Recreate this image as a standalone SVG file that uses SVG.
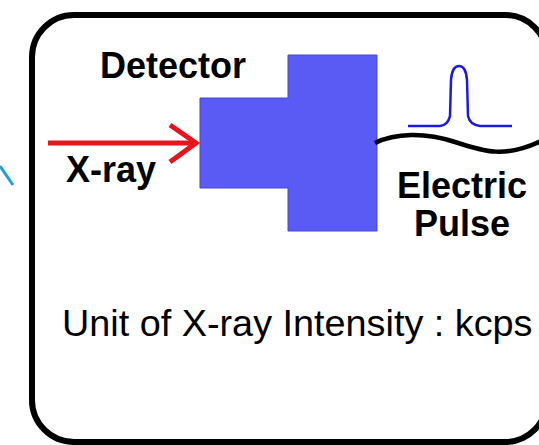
<svg xmlns="http://www.w3.org/2000/svg" width="539" height="445" viewBox="0 0 539 445">
<style>
.bold{font-family:"Liberation Sans",Arial,sans-serif;font-weight:bold;font-size:36px;fill:#000}
.reg{font-family:"Liberation Sans",Arial,sans-serif;font-size:37.8px;fill:#000}
</style>
<rect width="539" height="445" fill="#fff"/>
<line x1="0" y1="166" x2="13" y2="185" stroke="#1ea0dc" stroke-width="3"/>
<g id="frame">
<rect x="32" y="15" width="515" height="427" rx="42" ry="42" fill="none" stroke="#000" stroke-width="6"/>
</g>
<g id="detector">
<polygon points="200,98 288,98 288,55 377,55 377,231 288,231 288,188 200,188" fill="#5a5af5" stroke="#4646d0" stroke-width="1"/>
<text class="bold" x="100" y="78" font-size="37.5">Detector</text>
</g>
<g id="connectors">
<g id="xray-arrow" stroke="#e8141c" stroke-width="5" fill="none">
<line x1="48" y1="143" x2="195" y2="143"/>
<polyline points="170,125 196,143 170,162" stroke-linejoin="miter"/>
</g>
<path id="wire" d="M375,143 C395,133 425,132 455,142 C485,152 505,158 541,141" fill="none" stroke="#000" stroke-width="4.5"/>
</g>
<g id="xray-label">
<text class="bold" x="66" y="182">X-ray</text>
</g>
<g id="pulse">
<path d="M408,126 L440,126 Q448,125 450,116 L451,80 Q452,66 459,66 Q466,66 467,80 L468,116 Q470,125 480,126 L512,126" fill="none" stroke="#1a1ae0" stroke-width="2.5"/>
<text class="bold" x="462" y="198" text-anchor="middle">Electric</text>
<text class="bold" x="462" y="236" text-anchor="middle">Pulse</text>
</g>
<g id="unit">
<text class="reg" x="62" y="336">Unit of X-ray Intensity : kcps</text>
</g>
</svg>
